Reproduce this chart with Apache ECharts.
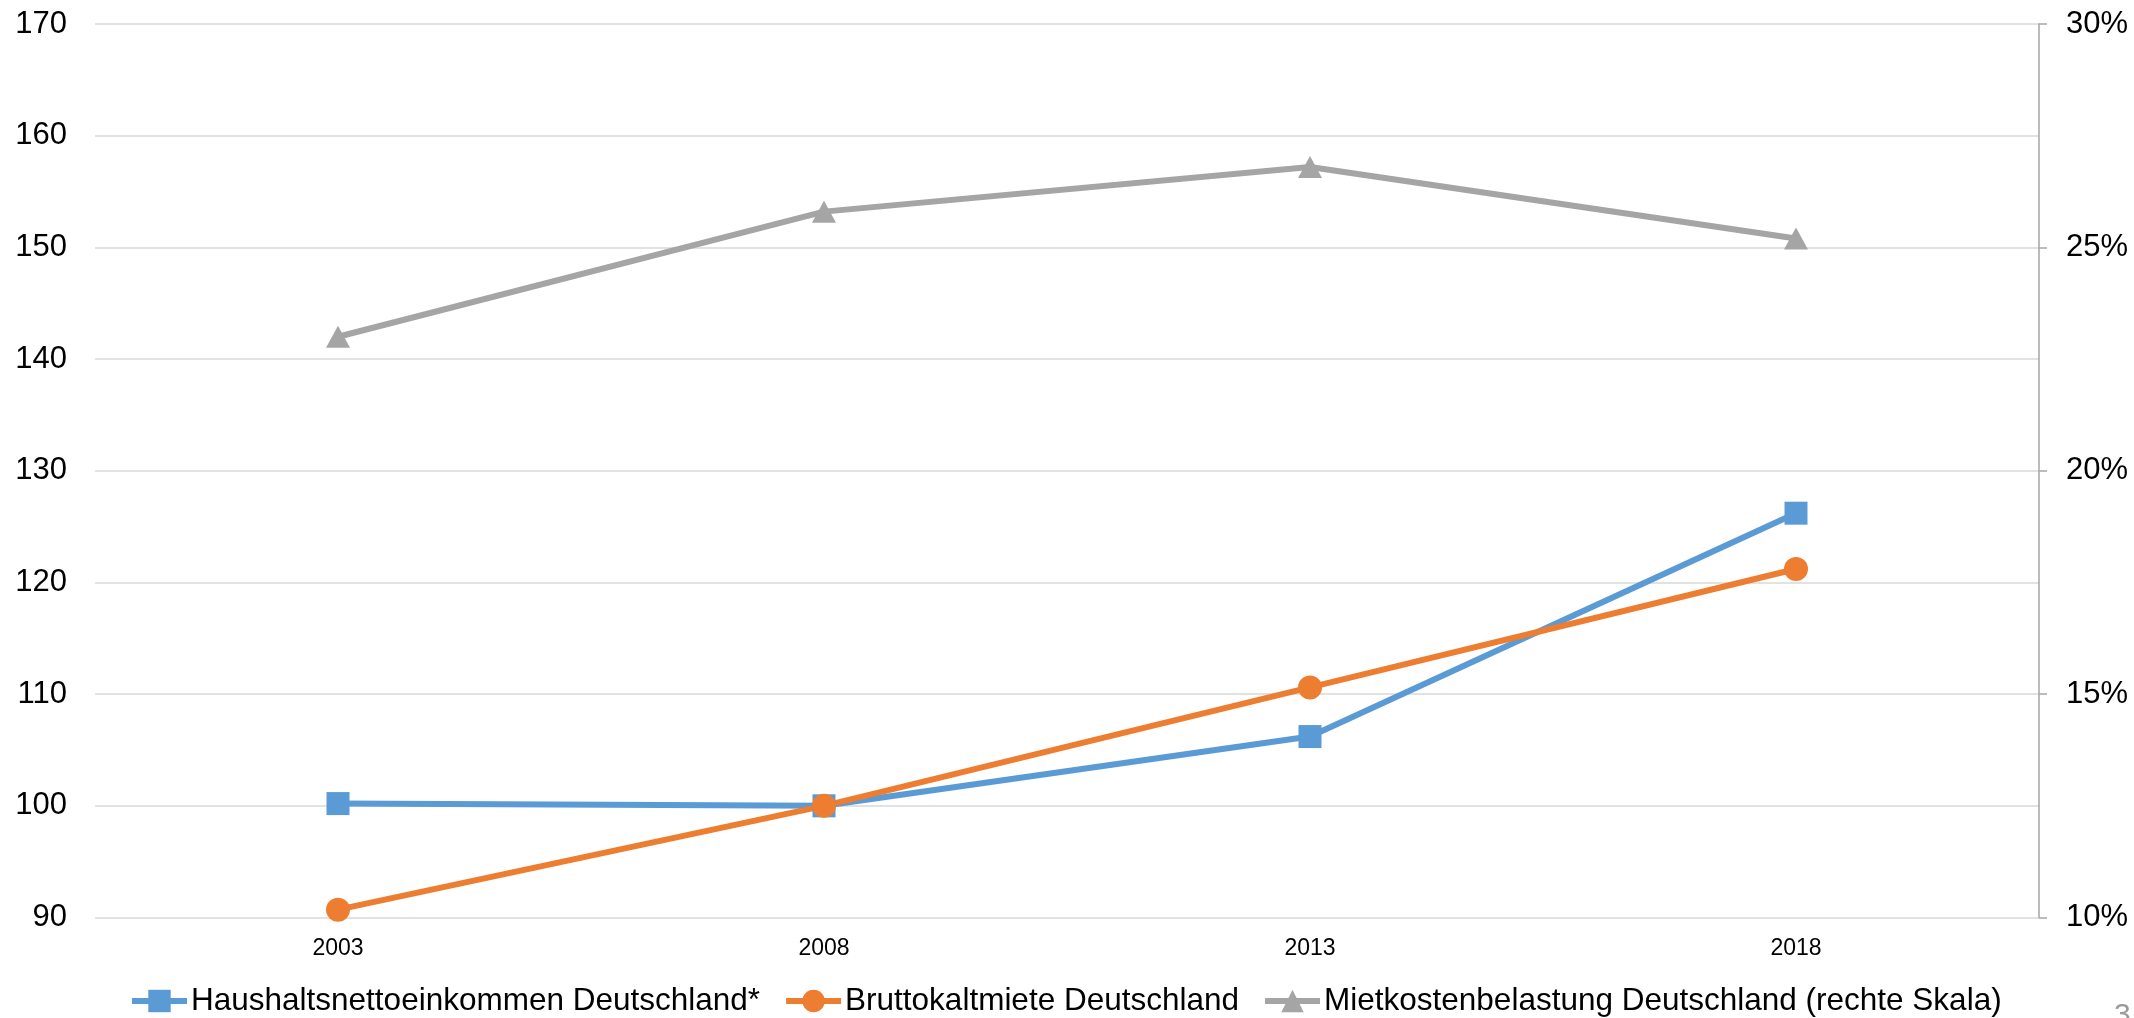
<!DOCTYPE html>
<html>
<head>
<meta charset="utf-8">
<title>Einkommen, Mieten und Mietkostenbelastung</title>
<script src="https://cdn.jsdelivr.net/npm/echarts@6/dist/echarts.min.js"></script>
<style>
  html, body { margin: 0; padding: 0; background: #ffffff; }
  #chart { width: 2134px; height: 1018px; }
</style>
</head>
<body>
<div id="chart"></div>
<script>
// Survey years
const years = ['2003', '2008', '2013', '2018'];

// Index values (2008 = 100), left axis
const haushaltsnettoeinkommen = [100.2, 100.0, 106.2, 126.2];
const bruttokaltmiete = [90.7, 100.0, 110.6, 121.2];

// Rent burden in percent, right axis
const mietkostenbelastung = [23.0, 25.8, 26.8, 25.2];

// Series names for the legend
const seriesNames = [
  'Haushaltsnettoeinkommen Deutschland*',
  'Bruttokaltmiete Deutschland',
  'Mietkostenbelastung Deutschland (rechte Skala)'
];

const FONT = '"Liberation Sans", Arial, sans-serif';

const chart = echarts.init(document.getElementById('chart'), null, { renderer: 'canvas' });

chart.setOption({
  animation: false,
  backgroundColor: '#ffffff',
  textStyle: { fontFamily: FONT, color: '#000000' },
  grid: { left: 95, right: 95, top: 24, bottom: 100.5, containLabel: false },
  legend: {
    data: seriesNames,
    left: 129,
    top: 985,
    padding: 0,
    itemWidth: 55,
    itemHeight: 28,
    itemGap: 23,
    lineStyle: { width: 6 },
    textStyle: { fontFamily: FONT, fontSize: 31.5, color: '#000000', padding: [0, 0, 0, -1] }
  },
  xAxis: {
    type: 'category',
    data: years,
    boundaryGap: true,
    axisLine: { show: false },
    axisTick: { show: false },
    axisLabel: { fontFamily: FONT, fontSize: 23, color: '#000000', margin: 20 }
  },
  yAxis: [
    {
      type: 'value',
      min: 90,
      max: 170,
      interval: 10,
      position: 'left',
      axisLine: { show: false },
      axisTick: { show: false },
      axisLabel: { fontFamily: FONT, fontSize: 31, color: '#000000', margin: 28 },
      splitLine: { show: true, lineStyle: { color: '#d9d9d9', width: 1.5 } }
    },
    {
      type: 'value',
      min: 10,
      max: 30,
      interval: 5,
      position: 'right',
      axisLine: { show: true, lineStyle: { color: '#a6a6a6', width: 1.5 } },
      axisTick: { show: true, inside: false, length: 8, lineStyle: { color: '#a6a6a6', width: 1.5 } },
      axisLabel: { fontFamily: FONT, fontSize: 31, color: '#000000', margin: 27, formatter: '{value}%' },
      splitLine: { show: false }
    }
  ],
  series: [
    {
      name: seriesNames[0],
      type: 'line',
      yAxisIndex: 0,
      data: haushaltsnettoeinkommen,
      symbol: 'rect',
      symbolSize: 23,
      showAllSymbol: true,
      lineStyle: { color: '#5b9bd5', width: 6 },
      itemStyle: { color: '#5b9bd5' }
    },
    {
      name: seriesNames[1],
      type: 'line',
      yAxisIndex: 0,
      data: bruttokaltmiete,
      symbol: 'circle',
      symbolSize: 24,
      showAllSymbol: true,
      lineStyle: { color: '#ed7d31', width: 6 },
      itemStyle: { color: '#ed7d31' }
    },
    {
      name: seriesNames[2],
      type: 'line',
      yAxisIndex: 1,
      data: mietkostenbelastung,
      symbol: 'triangle',
      symbolSize: [24, 22],
      showAllSymbol: true,
      lineStyle: { color: '#a5a5a5', width: 6 },
      itemStyle: { color: '#a5a5a5' }
    }
  ],
  graphic: [
    {
      type: 'text',
      left: 2114,
      top: 1001,
      style: { text: '3', fontFamily: FONT, fontSize: 30, fill: '#9a9a9a' }
    }
  ]
});
</script>
</body>
</html>
